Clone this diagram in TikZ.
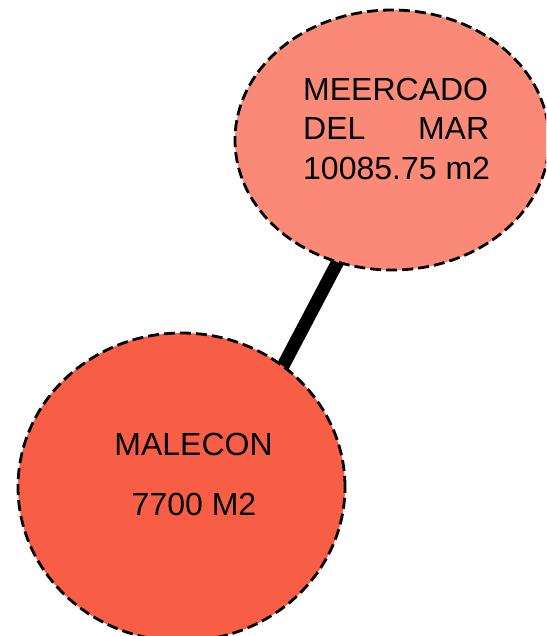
\documentclass[tikz,border=0pt]{standalone}
\usepackage{fontspec}
\setmainfont{Liberation Sans}
\usetikzlibrary{shapes.geometric,backgrounds}
\definecolor{topfill}{RGB}{250,138,119}
\definecolor{botfill}{RGB}{247,94,69}
\tikzset{
  blob/.style={ellipse, draw=black, line width=2.8pt, dash pattern=on 11pt off 5pt, inner sep=0pt, outer sep=0pt},
  lbl/.style={inner sep=0pt, font=\fontsize{32}{38}\selectfont, text=black},
  link/.style={draw=black, line width=13pt}
}
\begin{document}
\begin{tikzpicture}[x=1pt,y=-1pt]
\useasboundingbox (0,0) rectangle (546,636);
\clip (0,0) rectangle (546,636);
\node[blob, fill=topfill, minimum width=314pt, minimum height=260pt] (mer) at (392,140) {};
\node[blob, fill=botfill, minimum width=327pt, minimum height=308pt] (mal) at (181.5,487) {};
\begin{scope}[on background layer]
\draw[link] (mer.246) -- (mal.50);
\end{scope}
\node[lbl, anchor=base west] (t1) at (303,101) {MEERCADO};
\node[lbl, anchor=base west] (t2) at (303,140) {\makebox[186pt]{DEL\hfill MAR}};
\node[lbl, anchor=base west] (t3) at (303,180) {10085.75 m2};
\node[lbl, anchor=base] (b1) at (193.5,455) {MALECON};
\node[lbl, anchor=base] (b2) at (194,515) {7700 M2};
\end{tikzpicture}
\end{document}
